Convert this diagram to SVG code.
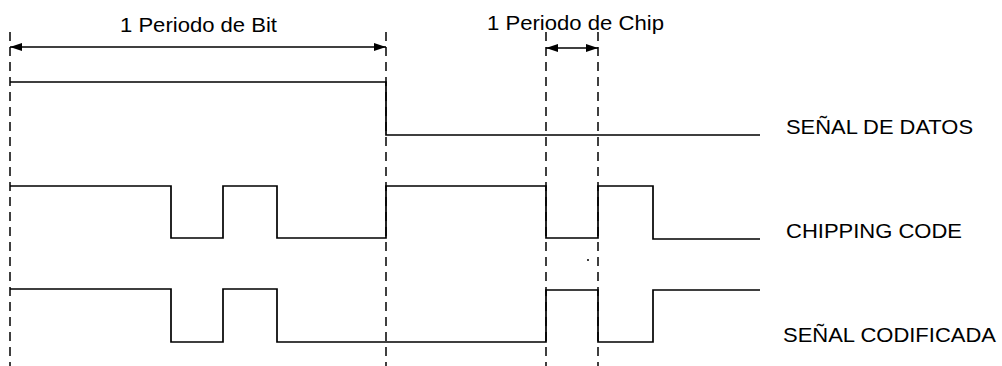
<svg xmlns="http://www.w3.org/2000/svg" width="1002" height="366" viewBox="0 0 1002 366">
<defs>
<style>
.sig{fill:none;stroke:#000;stroke-width:1.7;stroke-linejoin:miter}
.dash{fill:none;stroke:#000;stroke-width:1.5;stroke-dasharray:9 6}
.dim{fill:none;stroke:#000;stroke-width:1.4}
.lbl{font-family:"Liberation Sans",Arial,sans-serif;font-size:21px;fill:#000}
</style>
<marker id="ah" viewBox="0 0 12 8" refX="12" refY="4" markerWidth="12" markerHeight="8" markerUnits="userSpaceOnUse" orient="auto-start-reverse">
<path d="M0,0 L12,4 L0,8 Z" fill="#000"/>
</marker>
</defs>
<rect width="1002" height="366" fill="#fff"/>
<g id="guides">
<line class="dash" x1="10" y1="32" x2="10" y2="366"/>
<line class="dash" x1="386" y1="32" x2="386" y2="366"/>
<line class="dash" x1="546" y1="32" x2="546" y2="366"/>
<line class="dash" x1="598" y1="32" x2="598" y2="366"/>
</g>
<g id="connectors">
<line class="dim" x1="10" y1="47" x2="386" y2="47" marker-start="url(#ah)" marker-end="url(#ah)"/>
<line class="dim" x1="546" y1="48" x2="598" y2="48" marker-start="url(#ah)" marker-end="url(#ah)"/>
</g>
<g id="labels-top">
<text class="lbl" x="120" y="32" textLength="157" lengthAdjust="spacingAndGlyphs">1 Periodo de Bit</text>
<text class="lbl" x="487" y="30" textLength="177" lengthAdjust="spacingAndGlyphs">1 Periodo de Chip</text>
</g>
<g id="datos">
<polyline class="sig" points="10,82 386,82 386,135 760,135"/>
<text class="lbl" x="786" y="134" textLength="187" lengthAdjust="spacingAndGlyphs">SEÑAL DE DATOS</text>
</g>
<g id="chipping">
<polyline class="sig" points="10,186 171,186 171,238 223,238 223,186 277,186 277,238 386,238 386,186 546,186 546,238 598,238 598,186 653,186 653,239 760,239"/>
<text class="lbl" x="786" y="238" textLength="176" lengthAdjust="spacingAndGlyphs">CHIPPING CODE</text>
</g>
<g id="codificada">
<polyline class="sig" points="10,289 171,289 171,342 223,342 223,289 277,289 277,342 546,342 546,290 598,290 598,342 653,342 653,290 760,290"/>
<text class="lbl" x="783" y="342" textLength="213" lengthAdjust="spacingAndGlyphs">SEÑAL CODIFICADA</text>
</g>
<circle cx="588" cy="260" r="1" fill="#000"/>
</svg>
